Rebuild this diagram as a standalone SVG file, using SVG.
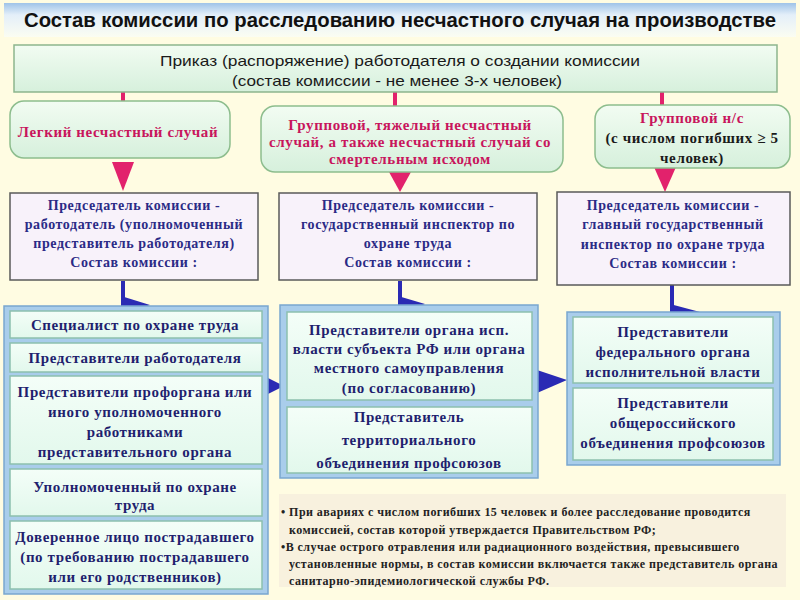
<svg xmlns="http://www.w3.org/2000/svg" width="800" height="600" viewBox="0 0 800 600">
<defs>
<linearGradient id="gTitle" x1="0" y1="0" x2="0" y2="1">
<stop offset="0" stop-color="#9FC3E8"/>
<stop offset="0.35" stop-color="#E4EFF9"/>
<stop offset="1" stop-color="#FBFDF2"/>
</linearGradient>
<linearGradient id="gCat" x1="0" y1="0" x2="0" y2="1">
<stop offset="0" stop-color="#F2FCF2"/>
<stop offset="1" stop-color="#D6F0DC"/>
</linearGradient>
<linearGradient id="gInner" x1="0" y1="0" x2="0" y2="1">
<stop offset="0" stop-color="#F4FEF8"/>
<stop offset="1" stop-color="#E2F8EC"/>
</linearGradient>
<style>
.title{font-family:"Liberation Sans",Arial,sans-serif;font-weight:bold;font-size:20px;fill:#111}
.top{font-family:"Liberation Sans",Arial,sans-serif;font-size:15px;fill:#1a1a1a}
.cat{font-family:"Liberation Serif","Times New Roman",serif;font-weight:bold;font-size:15px;fill:#C8155C;text-anchor:middle;letter-spacing:0.6px}
.catd{fill:#1a1a1a}
.chair{font-family:"Liberation Serif","Times New Roman",serif;font-weight:bold;font-size:14px;fill:#2B2B86;text-anchor:middle;letter-spacing:0.6px}
.col{font-family:"Liberation Serif","Times New Roman",serif;font-weight:bold;font-size:15px;fill:#1F1F6E;text-anchor:middle;letter-spacing:0.6px}
.note{font-family:"Liberation Serif","Times New Roman",serif;font-weight:bold;font-size:12px;fill:#222;letter-spacing:0.45px}
.catbox{fill:url(#gCat);stroke:#8DBD8D;stroke-width:1.5}
.chairbox{fill:#F8F2FA;stroke:#5A5A5A;stroke-width:1.5}
.outer{fill:#A9CDEB;stroke:#7AA6D0;stroke-width:1.5}
.inner{fill:url(#gInner);stroke:#8CC0AE;stroke-width:1.5}
.pink{stroke:#E2226C;stroke-width:4;fill:none}
.pinkh{fill:#E2226C}
.blue{stroke:#2A2AB4;stroke-width:4;fill:none}
.blueh{fill:#2A2AB4}
</style>
</defs>
<rect x="0" y="0" width="800" height="600" fill="#FFFCE2"/>
<g id="title">
<rect x="4" y="3" width="792" height="34" fill="url(#gTitle)"/>
<text class="title" x="400" y="27" text-anchor="middle" textLength="752" lengthAdjust="spacingAndGlyphs">Состав комиссии по расследованию несчастного случая на производстве</text>
</g>
<g id="connectors">
<line class="pink" x1="123" y1="92" x2="123" y2="102"/>
<line class="pink" x1="395" y1="92" x2="395" y2="107"/>
<line class="pink" x1="662" y1="92" x2="662" y2="106"/>
<polygon class="pinkh" points="112,162 134,162 123,191"/>
<polygon class="pinkh" points="389,172 411,172 400,192"/>
<polygon class="pinkh" points="654,167 676,167 665,192"/>
<line class="blue" x1="123" y1="281" x2="123" y2="312"/>
<polygon class="blueh" points="121,296 150,305 121,317"/>
<line class="blue" x1="400" y1="281" x2="400" y2="312"/>
<polygon class="blueh" points="398,296 425,304 398,317"/>
<line class="blue" x1="672" y1="285" x2="672" y2="318"/>
<polygon class="blueh" points="670,304 700,312 670,323"/>
<polygon class="blueh" points="264,376 284,386 264,396"/>
<polygon class="blueh" points="537,370 567,380 537,393"/>
</g>
<g id="order">
<rect x="14" y="45" width="763" height="47" fill="url(#gCat)" stroke="#8DB58D" stroke-width="1.5"/>
<text class="top" x="400" y="66" text-anchor="middle" textLength="480" lengthAdjust="spacingAndGlyphs">Приказ (распоряжение) работодателя о создании комиссии</text>
<text class="top" x="397" y="86" text-anchor="middle" textLength="330" lengthAdjust="spacingAndGlyphs">(состав комиссии - не менее 3-х человек)</text>
</g>
<g id="cat-light">
<rect class="catbox" x="10" y="101" width="220" height="57" rx="14"/>
<text class="cat" x="118" y="137">Легкий несчастный случай</text>
</g>
<g id="cat-group-severe">
<rect class="catbox" x="261" y="106" width="302" height="66" rx="14"/>
<text class="cat" x="410" y="130">Групповой, тяжелый несчастный</text>
<text class="cat" x="410" y="147">случай, а также несчастный случай со</text>
<text class="cat" x="410" y="164">смертельным исходом</text>
</g>
<g id="cat-group">
<rect class="catbox" x="595" y="105" width="195" height="63" rx="14"/>
<text class="cat" x="692" y="123">Групповой н/с</text>
<text class="cat catd" x="692" y="143">(с числом погибших ≥ 5</text>
<text class="cat catd" x="692" y="163">человек)</text>
</g>
<g id="chair-left">
<rect class="chairbox" x="10" y="193" width="248" height="87"/>
<text class="chair" x="134" y="210">Председатель комиссии -</text>
<text class="chair" x="134" y="229">работодатель (уполномоченный</text>
<text class="chair" x="134" y="248">представитель работодателя)</text>
<text class="chair" x="134" y="267">Состав комиссии :</text>
</g>
<g id="chair-middle">
<rect class="chairbox" x="279" y="193" width="258" height="87"/>
<text class="chair" x="408" y="210">Председатель комиссии -</text>
<text class="chair" x="408" y="229">государственный инспектор по</text>
<text class="chair" x="408" y="248">охране труда</text>
<text class="chair" x="408" y="267">Состав комиссии :</text>
</g>
<g id="chair-right">
<rect class="chairbox" x="557" y="192" width="233" height="93"/>
<text class="chair" x="673" y="210">Председатель комиссии -</text>
<text class="chair" x="673" y="229">главный государственный</text>
<text class="chair" x="673" y="249">инспектор по охране труда</text>
<text class="chair" x="673" y="268">Состав комиссии :</text>
</g>
<g id="col-left">
<rect class="outer" x="4" y="306" width="264" height="288"/>
<rect class="inner" x="10" y="311" width="252" height="27"/>
<text class="col" x="135" y="330">Специалист по охране труда</text>
<rect class="inner" x="10" y="343" width="252" height="29"/>
<text class="col" x="135" y="363">Представители работодателя</text>
<rect class="inner" x="10" y="376" width="252" height="88"/>
<text class="col" x="135" y="397">Представители профоргана или</text>
<text class="col" x="135" y="417">иного уполномоченного</text>
<text class="col" x="135" y="437">работниками</text>
<text class="col" x="135" y="457">представительного органа</text>
<rect class="inner" x="10" y="469" width="252" height="47"/>
<text class="col" x="135" y="492">Уполномоченный по охране</text>
<text class="col" x="135" y="510">труда</text>
<rect class="inner" x="10" y="521" width="252" height="68"/>
<text class="col" x="135" y="542">Доверенное лицо пострадавшего</text>
<text class="col" x="135" y="562">(по требованию пострадавшего</text>
<text class="col" x="135" y="582">или его родственников)</text>
</g>
<g id="col-middle">
<rect class="outer" x="280" y="305" width="258" height="173"/>
<rect class="inner" x="287" y="312" width="245" height="88"/>
<text class="col" x="409" y="335">Представители органа исп.</text>
<text class="col" x="409" y="354">власти субъекта РФ или органа</text>
<text class="col" x="409" y="373">местного самоуправления</text>
<text class="col" x="409" y="393">(по согласованию)</text>
<rect class="inner" x="287" y="407" width="245" height="66"/>
<text class="col" x="409" y="422">Представитель</text>
<text class="col" x="409" y="445">территориального</text>
<text class="col" x="409" y="468">объединения профсоюзов</text>
</g>
<g id="col-right">
<rect class="outer" x="567" y="312" width="213" height="153"/>
<rect class="inner" x="573" y="317" width="200" height="66"/>
<text class="col" x="673" y="337">Представители</text>
<text class="col" x="673" y="357">федерального органа</text>
<text class="col" x="673" y="377">исполнительной власти</text>
<rect class="inner" x="573" y="388" width="200" height="72"/>
<text class="col" x="673" y="408">Представители</text>
<text class="col" x="673" y="428">общероссийского</text>
<text class="col" x="673" y="448">объединения профсоюзов</text>
</g>
<g id="notes">
<rect x="279" y="494" width="507" height="93" fill="#F8F1DE"/>
<text class="note" x="281" y="516">• При авариях с числом погибших 15 человек и более расследование проводится</text>
<text class="note" x="289" y="534">комиссией, состав которой утверждается Правительством РФ;</text>
<text class="note" x="281" y="551">•В случае острого отравления или радиационного воздействия, превысившего</text>
<text class="note" x="289" y="568">установленные нормы, в состав комиссии включается также представитель органа</text>
<text class="note" x="289" y="585">санитарно-эпидемиологической службы РФ.</text>
</g>
</svg>
